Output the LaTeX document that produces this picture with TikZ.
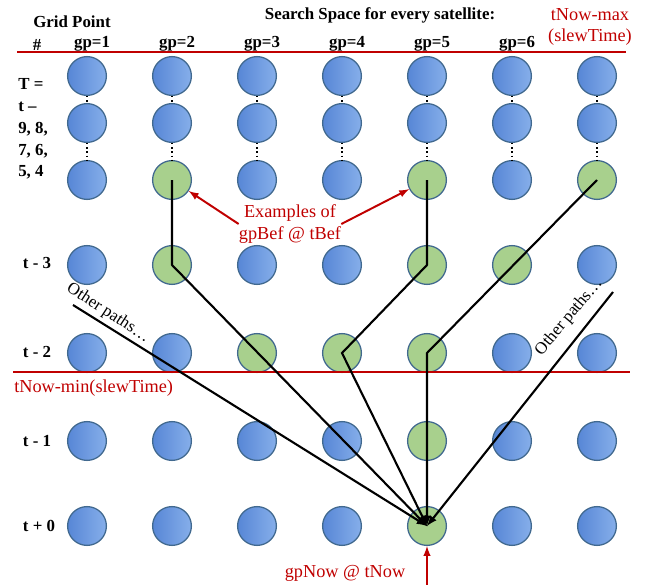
\documentclass[tikz,border=0pt]{standalone}
\usepackage{fontspec}
\setmainfont{Liberation Serif}
\usetikzlibrary{positioning,arrows}
\definecolor{colorred}{HTML}{C00000}
\definecolor{colorgreen}{HTML}{A8D08D}
\definecolor{colorrim}{HTML}{41698F}
\definecolor{colordark}{HTML}{2752AA}
\definecolor{colorleft}{HTML}{5787D6}
\definecolor{colorright}{HTML}{86AEEA}
\tikzset{
  gp/.style={circle, draw=colorrim, line width=0.9pt, minimum size=0.97cm,
    inner sep=0pt, left color=colorleft, middle color=colordark,
    right color=colorright},
  gpbef/.style={circle, draw=colorrim, line width=0.9pt, minimum size=0.97cm,
    inner sep=0pt, fill=colorgreen},
  head/.style={font=\fontsize{12}{15.5}\selectfont\bfseries, inner sep=0pt},
  note/.style={font=\fontsize{13}{15}\selectfont, text=colorred, inner sep=0pt},
  other/.style={font=\fontsize{12}{14}\selectfont, inner sep=0pt},
  edgepath/.style={black, line width=1.5pt, -latex},
  edgered/.style={colorred, line width=1.4pt, -latex},
  redline/.style={colorred, line width=1.4pt}
}

\begin{document}
\begin{tikzpicture}[x=0.025cm, y=-0.025cm]
\useasboundingbox (0,0) rectangle (647,585);

% grid of search points, one row per time step
\foreach \c/\s in {1/gp,2/gp,3/gp,4/gp,5/gp,6/gp,7/gp}
  \node[\s] (n-1-\c) at (2+\c*85,76) {};
\foreach \c/\s in {1/gp,2/gp,3/gp,4/gp,5/gp,6/gp,7/gp}
  \node[\s] (n-2-\c) at (2+\c*85,123) {};
\foreach \c/\s in {1/gp,2/gpbef,3/gp,4/gp,5/gpbef,6/gp,7/gpbef}
  \node[\s] (n-3-\c) at (2+\c*85,180) {};
\foreach \c/\s in {1/gp,2/gpbef,3/gp,4/gp,5/gpbef,6/gpbef,7/gp}
  \node[\s] (n-4-\c) at (2+\c*85,265) {};
\foreach \c/\s in {1/gp,2/gp,3/gpbef,4/gpbef,5/gpbef,6/gp,7/gp}
  \node[\s] (n-5-\c) at (2+\c*85,353) {};
\foreach \c/\s in {1/gp,2/gp,3/gp,4/gp,5/gpbef,6/gp,7/gp}
  \node[\s] (n-6-\c) at (2+\c*85,441) {};
\foreach \c/\s in {1/gp,2/gp,3/gp,4/gp,5/gpbef,6/gp,7/gp}
  \node[\s] (n-7-\c) at (2+\c*85,526) {};

\foreach \c in {1,...,7}
  \draw[dotted, line width=1pt] (n-1-\c) -- (n-2-\c) (n-2-\c) -- (n-3-\c);

% headings
\node[head] (grid) at (72,22) {Grid Point};
\node[head] (hash) at (37,45) {\#};
\foreach \c in {1,...,6}
  \node[head] (gp\c) at (7+\c*85,44) {gp=\c};
\node[head] (space) at (380,15) {Search Space for every satellite:};
\node[note, align=center] (nowmax) at (590,27) {tNow-max\\(slewTime)};

\node[head, align=left, anchor=west] (tlist) at (18,129)
{T =\\t --\\9, 8,\\7, 6,\\5, 4};
\node[head] (t3) at (37,263) {t - 3};
\node[head] (t2) at (37,352) {t - 2};
\node[head] (t1) at (37,441) {t - 1};
\node[head] (t0) at (39,526) {t + 0};

\draw[redline] (17,52) -- (626,52);
\draw[redline] (13,372) -- (630,372);
\node[note, anchor=west] (nowmin) at (14,388) {tNow-min(slewTime)};

% paths into gpNow
\coordinate (oleft) at (73,305);
\coordinate (oright) at (613,292);

\draw[edgepath] (n-3-2.center) -- (n-4-2.center) -- (n-7-5.center);
\draw[edgepath] (n-3-5.center) -- (n-4-5.center) -- (n-5-4.center)
  -- (n-7-5.center);
\draw[edgepath] (n-3-7.center) -- (n-5-5.center) -- (n-7-5.center);
\draw[edgepath] (oleft) -- (n-7-5.center);
\draw[edgepath] (oright) -- (n-7-5.center);

\node[other, rotate=-33] (pleft) at (108,313) {Other paths\dots};
\node[other, rotate=50] (pright) at (569,317) {Other paths\dots};

% red notes
\node[note, align=center] (ex) at (290,224) {Examples of\\gpBef @ tBef};
\draw[edgered] (ex.west) -- (n-3-2);
\draw[edgered] (ex.east) -- (n-3-5);

\node[note] (now) at (345,573) {gpNow @ tNow};
\coordinate (nowfoot) at (n-7-5 |- 0,585);
\draw[edgered] (nowfoot) -- (n-7-5);
\end{tikzpicture}
\end{document}
